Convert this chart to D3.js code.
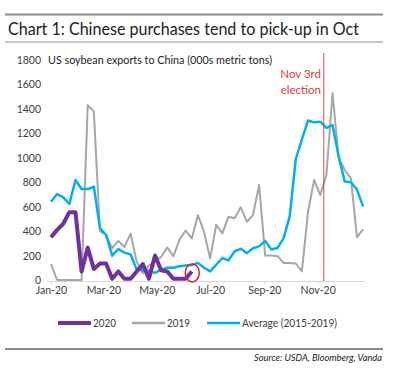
<!DOCTYPE html>
<html><head><meta charset="utf-8">
<script src="https://cdnjs.cloudflare.com/ajax/libs/d3/7.8.5/d3.min.js"></script>
<style>
html,body{margin:0;padding:0;background:#fff;}
svg{display:block;font-family:Lato,"Open Sans",sans-serif;}
</style></head>
<body>
<script>
// ---- data (weekly, starting 2020-01-01) ----
const startDate = "2020-01-01";
const series2020 = [350,410,460,555,555,70,265,90,135,135,10,70,10,10,70,130,10,200,80,70,10,10,10,70];
const series2019 = [130,0,0,0,0,0,1430,1380,400,370,260,320,270,380,150,55,120,150,190,265,195,330,405,340,530,395,177,450,382,518,505,595,477,531,777,200,200,195,140,140,135,70,560,818,695,860,1530,1000,900,832,350,415];
const seriesAvg = [640,703,676,622,818,744,744,763,425,368,199,253,224,210,85,80,75,58,85,100,100,112,118,122,140,100,70,125,180,160,235,255,220,260,275,320,250,262,340,520,990,1150,1305,1290,1295,1245,1268,1010,805,800,740,600];
const yTicks = [0,200,400,600,800,1000,1200,1400,1600,1800];
const xTickDates = ["2020-01-01","2020-03-01","2020-05-01","2020-07-01","2020-09-01","2020-11-01"];
const seriesNames = ["2020","2019","Average (2015-2019)"];
const seriesColors = ["#7030A0","#A6A6A6","#00B0F0"];
const electionLineDate = "2020-11-08";
const electionLabel = ["Nov 3rd","election"];
const titleText = "Chart 1: Chinese purchases tend to pick-up in Oct";
const subtitleText = "US soybean exports to China (000s metric tons)";
const sourceText = "Source: USDA, Bloomberg, Vanda";

const W = 399, H = 368;
const parse = d3.utcParse("%Y-%m-%d");
const t0 = parse(startDate);
const weekDate = i => d3.utcDay.offset(t0, 7*i);

const svg = d3.select("body").append("svg").attr("width", W).attr("height", H);

const x = d3.scaleUtc().domain([t0, parse("2020-12-24")]).range([51, 364]);
const y = d3.scaleLinear().domain([0, 1800]).range([280, 60]);

// rules
svg.append("line").attr("x1",5).attr("x2",383).attr("y1",14.5).attr("y2",14.5).attr("stroke","#8c8c8c").attr("stroke-width",2);
svg.append("line").attr("x1",5).attr("x2",383).attr("y1",42).attr("y2",42).attr("stroke","#8c8c8c").attr("stroke-width",1);
svg.append("line").attr("x1",5).attr("x2",383).attr("y1",349).attr("y2",349).attr("stroke","#8c8c8c").attr("stroke-width",2);

svg.append("text").attr("x",8).attr("y",35).attr("font-size",17.5).attr("fill","#222")
  .attr("textLength",351).attr("lengthAdjust","spacingAndGlyphs").text(titleText);
svg.append("text").attr("x",48).attr("y",64).attr("font-size",10.5).attr("fill","#222")
  .attr("textLength",224).attr("lengthAdjust","spacingAndGlyphs").text(subtitleText);

// y axis labels
svg.append("g").selectAll("text").data(yTicks).join("text")
  .attr("x",41).attr("y",d=>y(d)+4).attr("text-anchor","end")
  .attr("font-size",10.5).attr("fill","#404040").text(d=>d);

// x axis
const xAxis = d3.axisBottom(x).tickValues(xTickDates.map(parse))
  .tickFormat(d3.utcFormat("%b-%y")).tickSize(3).tickSizeOuter(0);
const gx = svg.append("g").attr("transform","translate(0,281)").call(xAxis);
gx.select(".domain").attr("d","M47,0.5H365").attr("stroke","#d9d9d9");
gx.selectAll(".tick line").attr("stroke","#d9d9d9");
gx.selectAll(".tick text").attr("font-size",10.5).attr("fill","#404040")
  .attr("font-family","Lato,sans-serif").attr("dy","0.9em").attr("y",4);

// lines
const line = d3.line().x((d,i)=>x(weekDate(i))).y(d=>y(d));
svg.append("path").attr("d",line(series2019)).attr("fill","none").attr("stroke",seriesColors[1]).attr("stroke-width",2).attr("stroke-linejoin","round");
svg.append("path").attr("d",line(seriesAvg)).attr("fill","none").attr("stroke",seriesColors[2]).attr("stroke-width",2.5).attr("stroke-linejoin","round");
svg.append("path").attr("d",line(series2020)).attr("fill","none").attr("stroke",seriesColors[0]).attr("stroke-width",4).attr("stroke-linejoin","round");

// red circle around last 2020 point
const lastI = series2020.length-1;
svg.append("ellipse").attr("cx",x(weekDate(lastI))+0.5).attr("cy",y(series2020[lastI])+1.5)
  .attr("rx",7).attr("ry",9).attr("fill","none").attr("stroke","#e8202a").attr("stroke-width",1.5);

// election line
const ex = x(parse(electionLineDate));
svg.append("line").attr("x1",ex).attr("x2",ex).attr("y1",53).attr("y2",281).attr("stroke","#e04848").attr("stroke-width",1);
svg.append("g").selectAll("text").data(electionLabel).join("text")
  .attr("x",321).attr("y",(d,i)=>78+i*16).attr("text-anchor","end")
  .attr("font-size",11.5).attr("fill","#e03c3c").text(d=>d);

// legend
const legX = [58,132,207];
const legW = [23,23,95];
const lg = svg.append("g");
seriesNames.forEach((n,i)=>{
  lg.append("line").attr("x1",legX[i]).attr("x2",legX[i]+33).attr("y1",323).attr("y2",323)
    .attr("stroke",seriesColors[i]).attr("stroke-width",i===0?4:2.5);
  lg.append("text").attr("x",legX[i]+35).attr("y",327).attr("font-size",10.5).attr("fill","#404040")
    .attr("textLength",legW[i]).attr("lengthAdjust","spacingAndGlyphs").text(n);
});

svg.append("text").attr("x",382).attr("y",361).attr("text-anchor","end").attr("font-size",9)
  .attr("font-style","italic").attr("fill","#222")
  .attr("textLength",128).attr("lengthAdjust","spacingAndGlyphs").text(sourceText);
</script>
</body></html>
